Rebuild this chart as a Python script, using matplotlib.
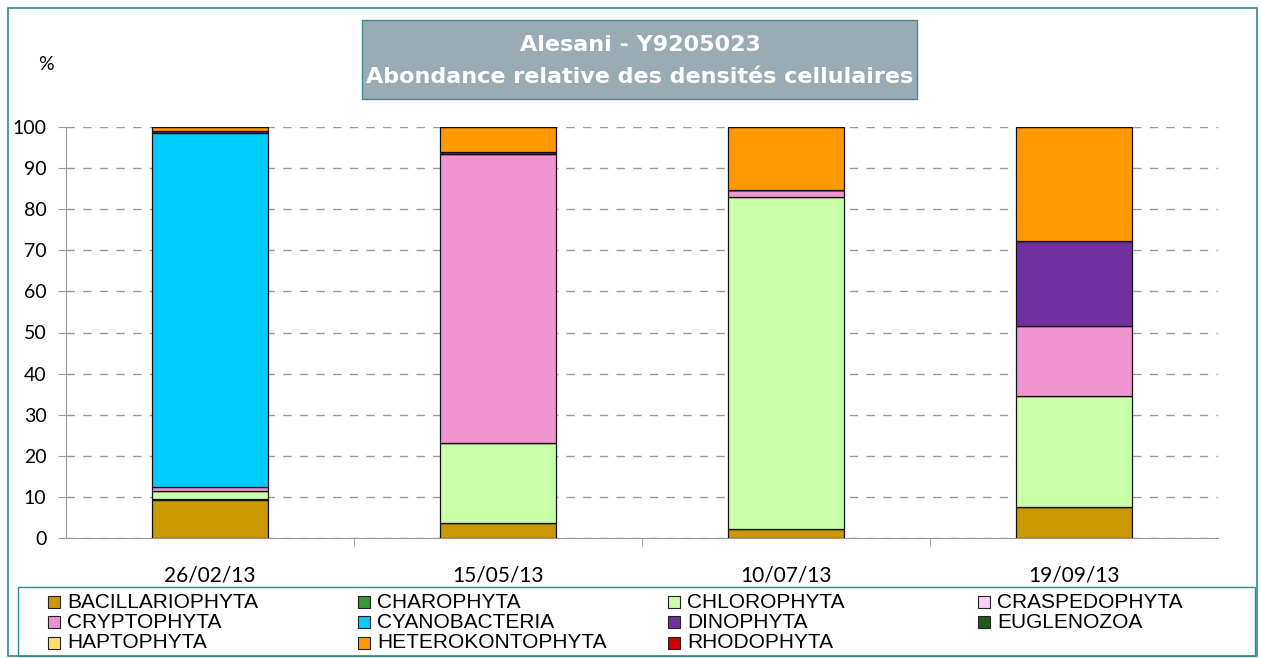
import matplotlib
matplotlib.use("Agg")
import matplotlib.pyplot as plt
from matplotlib.patches import Rectangle
import numpy as np

dates = ["26/02/13", "15/05/13", "10/07/13", "19/09/13"]
groups = ["BACILLARIOPHYTA", "CHAROPHYTA", "CHLOROPHYTA", "CRASPEDOPHYTA",
          "CRYPTOPHYTA", "CYANOBACTERIA", "DINOPHYTA", "EUGLENOZOA",
          "HAPTOPHYTA", "HETEROKONTOPHYTA", "RHODOPHYTA"]
colors = ["#CC9900", "#339933", "#CCFFAA", "#FFCCFF", "#F094CF", "#00CCFF",
          "#7030A0", "#1E5A1E", "#FFE066", "#FF9900", "#CC0000"]

bacillariophyta = [9.2, 3.6, 2.3, 7.5]
charophyta = [0.3, 0.0, 0.0, 0.0]
chlorophyta = [2.0, 19.5, 80.7, 27.0]
craspedophyta = [0.0, 0.0, 0.0, 0.0]
cryptophyta = [0.8, 70.3, 1.7, 17.1]
cyanobacteria = [86.2, 0.0, 0.0, 0.0]
dinophyta = [0.5, 0.6, 0.0, 20.7]
euglenozoa = [0.0, 0.0, 0.0, 0.0]
haptophyta = [0.0, 0.0, 0.0, 0.0]
heterokontophyta = [1.0, 6.0, 15.3, 27.7]
rhodophyta = [0.0, 0.0, 0.0, 0.0]

series = [bacillariophyta, charophyta, chlorophyta, craspedophyta, cryptophyta,
          cyanobacteria, dinophyta, euglenozoa, haptophyta, heterokontophyta,
          rhodophyta]
yticks = list(range(0, 101, 10))

W, H = 1261, 658
fig = plt.figure(figsize=(W / 100, H / 100), dpi=100)

def fx(px):
    return px / W

def fy(py):
    return 1 - py / H

# outer border
fig.patches.append(Rectangle((fx(8), fy(656)), fx(1257) - fx(8), fy(8) - fy(656),
                             transform=fig.transFigure, fill=False,
                             edgecolor="#2E8B8B", linewidth=1.2))

ax = fig.add_axes([fx(66), fy(538), fx(1218) - fx(66), fy(127) - fy(538)])
x = np.arange(len(dates))
bottom = np.zeros(len(dates))
for vals, col in zip(series, colors):
    v = np.array(vals)
    ax.bar(x, v, width=0.40, bottom=bottom, color=col, edgecolor="#111111",
           linewidth=0.9, zorder=3)
    bottom += v

ax.set_xlim(-0.5, 3.5)
ax.set_ylim(0, 100)
ax.set_yticks(yticks)
ax.set_yticklabels([str(t) for t in yticks], fontsize=14, family="Lato")
ax.yaxis.grid(True, linestyle=(0, (6, 6)), color="#999999", linewidth=1.0, zorder=0)
ax.set_xticks(x)
ax.set_xticklabels(dates, fontsize=15, family="Lato")
ax.set_xticks([0.5, 1.5, 2.5], minor=True)
ax.tick_params(axis="x", which="major", length=0, pad=20)
ax.tick_params(axis="x", which="minor", length=6, color="#999999")
ax.tick_params(axis="y", length=6, color="#999999", pad=8)
for s in ["top", "right"]:
    ax.spines[s].set_visible(False)
ax.spines["left"].set_color("#999999")
ax.spines["bottom"].set_color("#999999")

# % label
fig.text(fx(46), fy(65), "%", fontsize=14, family="Lato", ha="center", va="center")

# title box
fig.patches.append(Rectangle((fx(362), fy(99)), fx(917) - fx(362), fy(20) - fy(99),
                             transform=fig.transFigure, facecolor="#9AABB4",
                             edgecolor="#3F8A8A", linewidth=1.0))
fig.text(fx(640), fy(45), "Alesani - Y9205023", fontsize=16, fontweight="bold",
         color="white", ha="center", va="center", family="DejaVu Sans")
fig.text(fx(640), fy(77), "Abondance relative des densités cellulaires", fontsize=16,
         fontweight="bold", color="white", ha="center", va="center",
         family="DejaVu Sans")

# legend box
fig.patches.append(Rectangle((fx(18), fy(656)), fx(1255) - fx(18), fy(587) - fy(656),
                             transform=fig.transFigure, fill=False,
                             edgecolor="#2E8B8B", linewidth=1.0))
col_x = [48, 358, 668, 978]
row_y = [602, 622, 643]
for i, (name, col) in enumerate(zip(groups, colors)):
    r, c = divmod(i, 4)
    mx, my = col_x[c], row_y[r]
    fig.patches.append(Rectangle((fx(mx), fy(my + 6)), fx(12), 12 / H,
                                 transform=fig.transFigure, facecolor=col,
                                 edgecolor="#222222", linewidth=0.8))
    fig.text(fx(mx + 19), fy(my), name, fontsize=15, family="Liberation Sans",
             ha="left", va="center")

fig.savefig("out.png", dpi=100)
